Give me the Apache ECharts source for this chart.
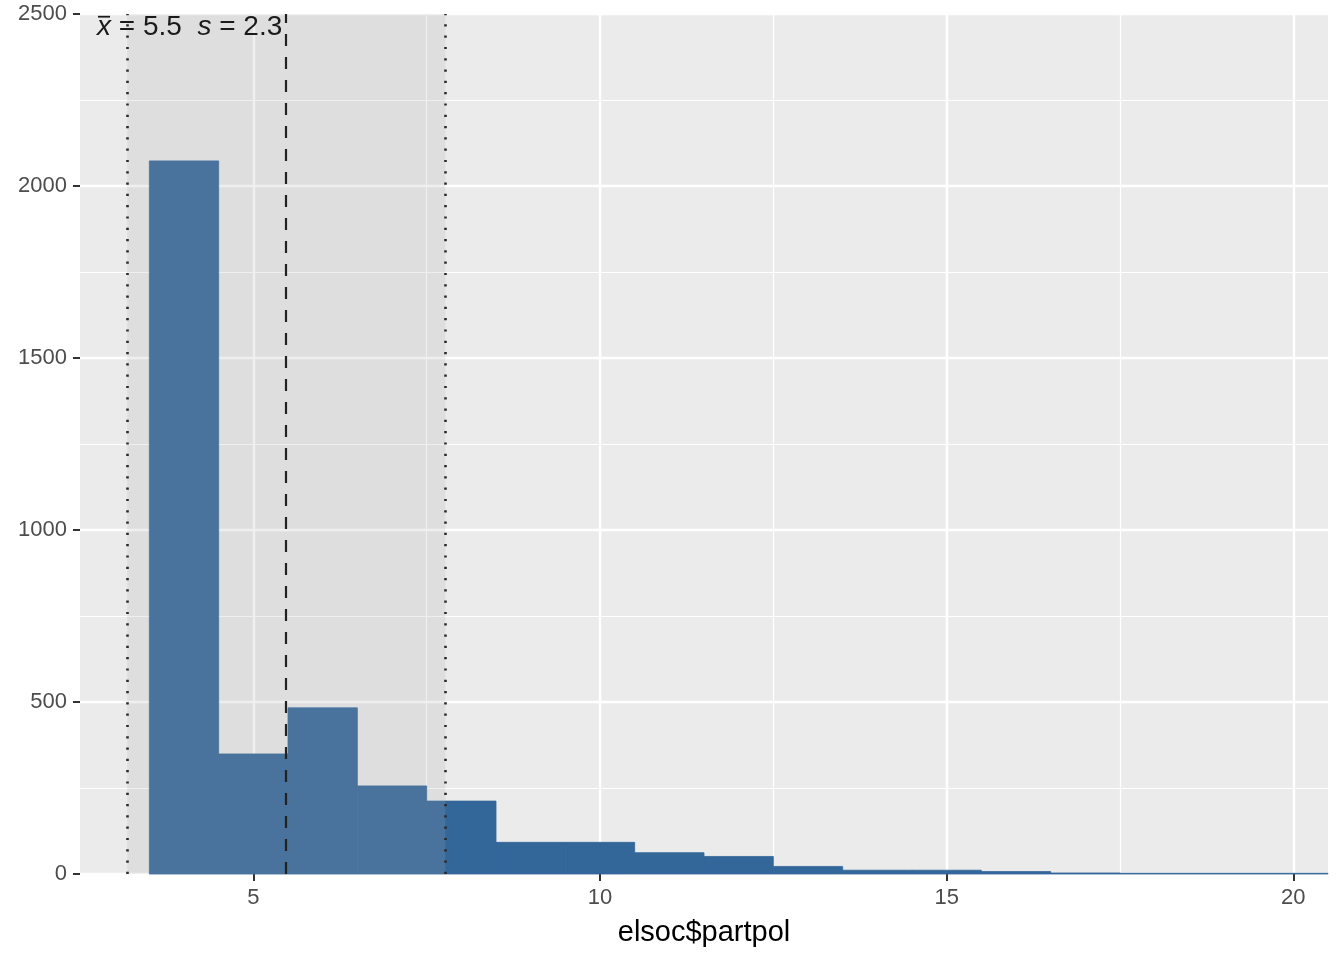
<!DOCTYPE html>
<html>
<head>
<meta charset="utf-8">
<script src="https://cdn.jsdelivr.net/npm/echarts@6/dist/echarts.min.js"></script>
<style>
  html, body { margin: 0; padding: 0; background: #ffffff; }
  #chart { width: 1344px; height: 960px; }
</style>
</head>
<body>
<div id="chart"></div>
<script>
// ---- data ----
const binCenters = [4, 5, 6, 7, 8, 9, 10, 11, 12, 13, 14, 15, 16, 17, 18, 19, 20];
const binCounts  = [2073, 349, 483, 256, 212, 92, 92, 62, 51, 22, 11, 11, 7, 3, 2, 2, 2];
const meanValue = 5.475;
const sdValue = 2.295;
const annotationMean = '5.5';
const annotationSd = '2.3';
const xMajorTicks = [5, 10, 15, 20];
const xTitle = 'elsoc$partpol';

const FONT = 'Liberation Sans, Arial, Helvetica, sans-serif';
const yMax = 2500;

const chart = echarts.init(document.getElementById('chart'));

const option = {
  backgroundColor: '#ffffff',
  animation: false,
  grid: {
    left: 80, right: 16, top: 14, bottom: 86,
    show: true, backgroundColor: '#EBEBEB', borderWidth: 0
  },
  xAxis: [
    {
      type: 'value', min: 2.5, max: 20.5, interval: 2.5,
      axisLine: { show: false }, axisTick: { show: false }, axisLabel: { show: false },
      splitLine: { show: true, showMinLine: false, showMaxLine: false, lineStyle: { color: '#ffffff', width: 1.2 } }
    },
    {
      type: 'value', min: 2.5, max: 20.5, position: 'bottom',
      name: xTitle, nameLocation: 'middle', nameGap: 44,
      nameTextStyle: { fontFamily: FONT, fontSize: 29, color: '#000000' },
      axisLine: { show: false },
      axisTick: { show: true, customValues: xMajorTicks, length: 7, lineStyle: { color: '#333333', width: 2 } },
      axisLabel: { show: true, customValues: xMajorTicks, margin: 13, fontFamily: FONT, fontSize: 22, color: '#4D4D4D' },
      splitLine: { show: true, lineStyle: { color: '#ffffff', width: 2.4 } }
    }
  ],
  yAxis: {
    type: 'value', min: 0, max: yMax, interval: 500,
    axisLine: { show: false },
    axisTick: { show: true, length: 7, lineStyle: { color: '#333333', width: 2 } },
    axisLabel: {
      margin: 13, fontFamily: FONT, fontSize: 22, color: '#4D4D4D', verticalAlign: 'middle',
      formatter: function (v) { return String(v); }
    },
    splitLine: { show: true, lineStyle: { color: '#ffffff', width: 2.4 } },
    minorTick: { show: false, splitNumber: 2 },
    minorSplitLine: { show: true, lineStyle: { color: '#ffffff', width: 1.2 } }
  },
  series: [
    {
      type: 'custom',
      xAxisIndex: 1,
      z: 2,
      data: binCenters.map((c, i) => [c, binCounts[i]]),
      renderItem: function (params, api) {
        const c = api.value(0), v = api.value(1);
        const p0 = api.coord([c - 0.5, v]);
        const p1 = api.coord([c + 0.5, 0]);
        return {
          type: 'rect',
          shape: { x: p0[0], y: p0[1], width: p1[0] - p0[0], height: p1[1] - p0[1] },
          style: { fill: '#336699', stroke: '#336699', lineWidth: 0.8 }
        };
      }
    },
    {
      type: 'custom',
      xAxisIndex: 1,
      z: 5,
      data: [[meanValue - sdValue, meanValue + sdValue]],
      renderItem: function (params, api) {
        const lo = api.value(0), hi = api.value(1);
        const p0 = api.coord([lo, yMax]);
        const p1 = api.coord([hi, 0]);
        return {
          type: 'rect',
          shape: { x: p0[0], y: p0[1], width: p1[0] - p0[0], height: p1[1] - p0[1] },
          style: { fill: 'rgba(171,171,171,0.19)' }
        };
      },
      markLine: {
        silent: true,
        symbol: 'none',
        label: { show: false },
        z: 6,
        data: [
          { xAxis: meanValue - sdValue, lineStyle: { color: '#2a2a2a', width: 2.6, type: [2.2, 9.1] } },
          { xAxis: meanValue, lineStyle: { color: '#222222', width: 2.2, type: [12, 11] } },
          { xAxis: meanValue + sdValue, lineStyle: { color: '#2a2a2a', width: 2.6, type: [2.2, 9.1] } }
        ]
      }
    }
  ],
  graphic: [
    {
      type: 'text',
      z: 100,
      x: 97, y: 27,
      style: {
        text: '{i|x} = ' + annotationMean + '  {i|s} = ' + annotationSd,
        font: '28px ' + FONT,
        fill: '#1a1a1a',
        verticalAlign: 'middle',
        align: 'left',
        rich: {
          i: { fontStyle: 'italic', fontSize: 28, fontFamily: FONT, fill: '#1a1a1a' }
        }
      }
    },
    {
      type: 'line',
      z: 100,
      shape: { x1: 98, y1: 16.7, x2: 110, y2: 16.7 },
      style: { stroke: '#1a1a1a', lineWidth: 1.8 }
    }
  ]
};

chart.setOption(option);
</script>
</body>
</html>
